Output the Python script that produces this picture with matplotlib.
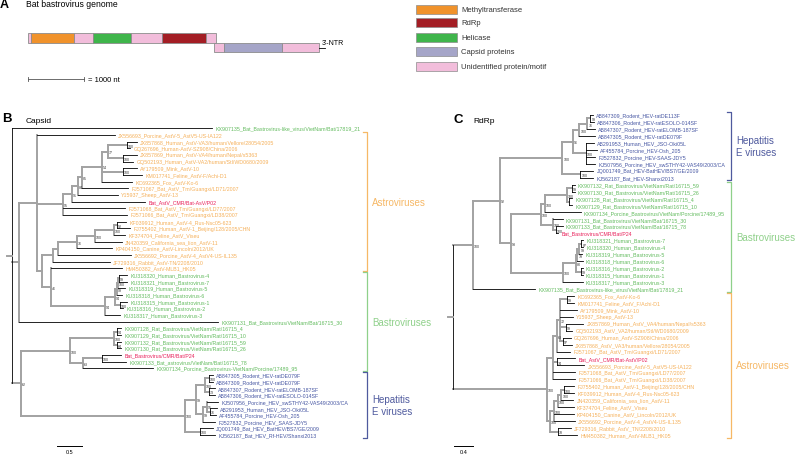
import matplotlib
matplotlib.use("Agg")
import matplotlib.pyplot as plt
from matplotlib.transforms import blended_transform_factory

W, H = 799, 456

# -----------------------------------------------------------
# Data
# -----------------------------------------------------------

# genome map (nt)
orf1_edges = [0, 54, 820, 1160, 1840, 2390, 3180, 3360]
orf1_domains = ["Unidentified protein/motif", "Methyltransferase",
                "Unidentified protein/motif", "Helicase",
                "Unidentified protein/motif", "RdRp",
                "Unidentified protein/motif"]
orf2_edges = [3320, 3500, 4540, 5200]
orf2_domains = ["Unidentified protein/motif", "Capsid proteins",
                "Unidentified protein/motif"]
ntr_end = 5310
scale_nt = 1000

domain_names = ["Methyltransferase", "RdRp", "Helicase",
                "Capsid proteins", "Unidentified protein/motif"]
domain_colors = ["#f0922b", "#a31d24", "#3fb54b", "#a5a5c8", "#f2bddb"]

# capsid tree (branch lengths in substitutions/site)
capsid_newick = """
(KX907135_Bat_Bastrovirus-like_virus/VietNam/Bat/17819_21:4.00,
((JX556693_Porcine_AstV-5_AstV5-US-IA122:1.56,
(((((((JX857868_Human_AstV-VA3/human/Vellore/28054/2005:0.20,GQ267696_Human-AstV-SZ908/China/2006:0.06)100:0.38,
(JX857869_Human_AstV-VA4/human/Nepal/s5363:0.28,GQ502193_Human_AstV-VA2/human/Stl/WD0680/2009:0.20)100:0.30)77:0.12,
(AY179509_Mink_AstV-10:0.28,KM017741_Feline_AstV-F/Achi-D1:0.38)100:0.42,
KC692365_Fox_AstV-Ko-6:0.60)54:0.40,
FJ571067_Bat_AstV_Tm/Guangxi/LD71/2007:0.92)85:0.08,
Y15937_Sheep_AstV-13:0.80)84:0.12,
Bat_AstV_CMR/Bat-AsV/P02:1.46)91:0.18,
FJ571068_Bat_AstV_Tm/Guangxi/LD77/2007:1.24,
FJ571066_Bat_AstV_Tm/Guangxi/LD38/2007:1.28)95:0.52,
(((((((KF039912_Human_AstV-4_Rus-Nsc05-623:0.18,FJ755402_Human_AstV-1_Beijing/128/2005/CHN:0.26)92:0.06,
KF374704_Feline_AstV_Viseu:0.22)100:0.38,
JN420359_California_sea_lion_AstV-11:0.54)100:0.36,
KP404150_Canine_AstV-Lincoln/2012/UK:0.70)76:0.38,
JX556692_Porcine_AstV-4_AstV4-US-IL135:1.46):0.10,
JF729316_Rabbit_AstV-TN/2208/2010:1.14):0.22,
(HM450382_AstV-MLB1_HK05:1.42,
(((((KU318320_Human_Bastrovirus-4:0.16,KU318321_Human_Bastrovirus-7:0.16)99:0.02,
KU318319_Human_Bastrovirus-5:0.14)100:0.02,
KU318318_Human_Bastrovirus-6:0.10)99:0.04,
(KU318315_Human_Bastrovirus-1:0.14,KU318316_Human_Bastrovirus-2:0.06)100:0.10)94:0.20,
KU318317_Human_Bastrovirus-3:0.30)94:1.08)46:0.18):0.10):0.36,
KX907131_Bat_Bastrovirus/VietNam/Bat/16715_30:3.98):0.14,
((((KX907128_Rat_Bastrovirus/VietNam/Rat/16715_4:0.08,KX907129_Rat_Bastrovirus/VietNam/Rat/16715_10:0.08)94:0.06,
(KX907132_Rat_Bastrovirus/VietNam/Rat/16715_59:0.08,KX907130_Rat_Bastrovirus/VietNam/Rat/16715_26:0.08)64:0.06)100:0.88,
((Bat_Bastrovirus/CMR/Bat/P24:0.38,KX907133_Bat_astrovirus/VietNam/Bat/16715_78:0.48)100:0.38,
KX907134_Porcine_Bastrovirus-VietNam/Porcine/17489_95:1.40)63:0.26)100:0.98,
((((AB847305_Rodent_HEV-ratDE079F:0.08,AB847309_Rodent_HEV-ratDE079F:0.08)100:0.08,
(AB847307_Rodent_HEV-ratELOMB-187SF:0.12,AB847306_Rodent_HEV-ratESOLO-014SF:0.12)73:0.08)100:0.18,
((KJ507956_Porcine_HEV_swSTHY42-VAS49/2003/CA:0.22,
(AB291953_Human_HEV_JSO-Oki05L:0.14,AF455784_Porcine_HEV-Osh_205:0.12)76:0.06)95:0.08,
FJ527832_Porcine_HEV_SAAS-JDY5:0.24)99:0.14)99:0.22,
(JQ001749_Bat_HEV_BatHEV/BS7/GE/2009:0.26,KJ562187_Bat_HEV_Rf-HEV/Shanxi2013:0.30)100:0.30)100:3.28)62:0.18);
"""

# RdRp tree
rdrp_newick = """
((((((((AB847309_Rodent_HEV-ratDE113F:0.06,AB847306_Rodent_HEV-ratESOLO-014SF:0.08)99:0.06,
AB847307_Rodent_HEV-ratELOMB-187SF:0.15)76:0.17,
AB847305_Rodent_HEV-ratDE079F:0.32)100:0.13,
(AB291953_Human_HEV_JSO-Oki05L:0.17,AF455784_Porcine_HEV-Osh_205:0.23,
FJ527832_Porcine_HEV-SAAS-JDY5:0.19,KJ507956_Porcine_HEV_swSTHY42-VAS49/2003/CA:0.19)100:0.27)96:0.23,
(JQ001749_Bat_HEV-BatHEV/BS7/GE/2009:0.27,KJ562187_Bat_HEV-Shanxi2013:0.27)100:0.38)100:1.31,
(((((KX907132_Rat_Bastrovirus/VietNam/Rat/16715_59:0.06,KX907130_Rat_Bastrovirus/VietNam/Rat/16715_26:0.06)99:0.11,
(KX907128_Rat_Bastrovirus/VietNam/Rat/16715_4:0.06,KX907129_Rat_Bastrovirus/VietNam/Rat/16715_10:0.06):0.06)100:0.46,
KX907134_Porcine_Bastrovirus/VietNam/Porcine/17489_95:0.76)100:0.08,
(KX907131_Bat_Bastrovirus/VietNam/Bat/16715_30:0.21,
(KX907133_Bat_Bastrovirus/VietNam/Bat/16715_78:0.15,Bat_Bastrovirus/CMR/Bat/P24:0.06)100:0.06)100:0.25)100:0.63,
(((((KU318321_Human_Bastrovirus-7:0.04,KU318320_Human_Bastrovirus-4:0.04)87:0.04,
KU318319_Human_Bastrovirus-5:0.06)99:0.04,
KU318318_Human_Bastrovirus-6:0.11)79:0.04,
(KU318316_Human_Bastrovirus-2:0.04,KU318315_Human_Bastrovirus-1:0.04)99:0.11)80:0.27,
KU318317_Human_Bastrovirus-3:0.42)100:1.09)93:0.23)92:0.57,
KX907135_Bat_Bastrovirus-like_virus/VietNam/Bat/17819_21:1.31)100:0.42,
(((((KC692365_Fox_AstV-Ko-6:0.15,KM017741_Feline_AstV_F/Achi-D1:0.15)99:0.15,
AY179509_Mink_AstV-10:0.36,
Y15937_Sheep_AstV-13:0.27,
(JX857869_Human_AstV_VA4/human/Nepal/s5363:0.36,GQ502193_AstV_VA2/human/Stl/WD0680/2009:0.13)99:0.13,
(GQ267696_Human_AstV-SZ908/China/2006:0.17,JX857868_AstV_VA3/human/Vellore/28054/2005:0.19)97:0.06)72:0.06,
FJ571067_Bat_AstV_Tm/Guangxi/LD71/2007:0.27)63:0.08,
(Bat_AstV_CMR/Bat-AstV/P02:0.38,JX556693_Porcine_AstV-5_AstV5-US-IA122:0.57)74:0.08,
FJ571068_Bat_AstV_Tm/Guangxi/LD77/2007:0.46,
FJ571066_Bat_AstV_Tm/Guangxi/LD38/2007:0.46):0.13,
(((((FJ755402_Human_AstV-1_Beijing/128/2005/CHN:0.21,KF039912_Human_AstV-4_Rus-Nsc05-623:0.21)100:0.06,
JN420359_California_sea_lion_AstV-11:0.25)100:0.08,
KF374704_Feline_AstV_Viseu:0.34)100:0.08,
KP404150_Canine_AstV_Lincoln/2012/UK:0.42,
JX556692_Porcine_AstV-4_AstV4-US-IL135:0.44)100:0.08,
(JF729316_Rabbit_AstV_TN/2208/2010:0.27,HM450382_Human_AstV-MLB1_HK05:0.40)78:0.17)100:0.06)100:1.98);
"""

# clade brackets: label, first leaf, last leaf, colour
capsid_clades = [
    ("Astroviruses", "JX556693", "HM450382", "#f6b866"),
    ("Bastroviruses", "KU318320", "KX907134", "#8fd08a"),
    ("Hepatitis\nE viruses", "AB847305", "KJ562187", "#4f5a9e"),
]
rdrp_clades = [
    ("Hepatitis\nE viruses", "AB847309", "KJ562187", "#4f5a9e"),
    ("Bastroviruses", "KX907132", "KX907135", "#8fd08a"),
    ("Astroviruses", "KC692365", "HM450382", "#f6b866"),
]

capsid_scale = 0.5
rdrp_scale = 0.4

ORANGE = "#f5b05a"
GREEN = "#62bb5e"
BLUE = "#4757a3"
RED = "#e8205a"
GREY = "#a2a2a2"


# -----------------------------------------------------------
# Tree helpers
# -----------------------------------------------------------

def parse_newick(text):

    s = "".join(text.split()).rstrip(";")
    pos = 0

    def node():
        nonlocal pos
        n = {"children": [], "name": "", "length": 0.0}
        if s[pos] == "(":
            pos += 1
            n["children"].append(node())
            while s[pos] == ",":
                pos += 1
                n["children"].append(node())
            pos += 1
        start = pos
        while pos < len(s) and s[pos] not in ",():":
            pos += 1
        n["name"] = s[start:pos]
        if pos < len(s) and s[pos] == ":":
            pos += 1
            start = pos
            while pos < len(s) and s[pos] not in ",()":
                pos += 1
            n["length"] = float(s[start:pos])
        return n

    return node()


def layout(root):

    leaves = []

    def walk(n, x):
        n["x"] = x + n["length"]
        if n["children"]:
            for c in n["children"]:
                walk(c, n["x"])
            n["y"] = (n["children"][0]["y"] + n["children"][-1]["y"]) / 2
        else:
            n["y"] = len(leaves)
            leaves.append(n)

    root["length"] = 0.0
    walk(root, 0.0)
    return leaves


def leaf_color(name):

    if "CMR" in name:
        return RED
    if "HEV" in name:
        return BLUE
    if "Bastrovirus" in name or name.startswith("KX9071"):
        return GREEN
    return ORANGE


def draw_tree(ax, root, stub):

    def walk(n, px):
        kids = n["children"]
        if px is not None:
            if kids:
                ax.plot([px, n["x"]], [n["y"], n["y"]], color=GREY,
                        lw=1.4, solid_capstyle="projecting", zorder=1)
            else:
                ax.plot([px, n["x"]], [n["y"], n["y"]], color="black",
                        lw=0.6, zorder=2)
        if kids:
            simple = all(not c["children"] for c in kids)
            if px is None or simple:
                ax.plot([n["x"], n["x"]], [kids[0]["y"], kids[-1]["y"]],
                        color="black", lw=0.6, zorder=2)
            else:
                ax.plot([n["x"], n["x"]], [kids[0]["y"], kids[-1]["y"]],
                        color=GREY, lw=1.4, solid_capstyle="projecting",
                        zorder=1)
            if n["name"]:
                ax.annotate(n["name"], (n["x"], n["y"]), xytext=(0.8, -0.6),
                            textcoords="offset points", fontsize=2.6,
                            ha="left", va="center", color="#333333",
                            zorder=3)
            for c in kids:
                walk(c, n["x"])
        else:
            ax.annotate(n["name"], (n["x"], n["y"]), xytext=(2.4, 0),
                        textcoords="offset points", fontsize=3.8,
                        ha="left", va="center", color=leaf_color(n["name"]))

    walk(root, None)
    ax.plot([root["x"] - stub, root["x"]], [root["y"], root["y"]],
            color=GREY, lw=1.4)


def tree_axes(fig, root_px, px_per_unit, top_px, step_px):

    ax = fig.add_axes([0, 0, 1, 1], facecolor="none")
    ax.set_xlim(-root_px / px_per_unit, (W - root_px) / px_per_unit)
    ax.set_ylim((H - top_px) / step_px, -top_px / step_px)
    ax.axis("off")
    return ax


def draw_brackets(ov, ax, leaves, clades, bx):

    trans = blended_transform_factory(ov.transData, ax.transData)
    index = {lf["name"].split("_")[0]: lf["y"] for lf in leaves}
    for label, first, last, color in clades:
        y0 = index[first] - 0.4
        y1 = index[last] + 0.4
        ax.plot([bx - 4, bx, bx, bx - 4], [y0, y0, y1, y1], color=color,
                lw=0.9, transform=trans)
        ax.text(bx + 5, (y0 + y1) / 2, label, transform=trans, color=color,
                fontsize=7, ha="left", va="center", linespacing=1.25)


def draw_scale(ov, ax, x0, length, y_px):

    trans = blended_transform_factory(ax.transData, ov.transData)
    ax.plot([x0, x0 + length], [y_px, y_px], color="black", lw=0.7,
            transform=trans)
    ax.text(x0 + length / 2, y_px + 6, f"{length:g}", transform=trans,
            fontsize=4, ha="center", va="center")


# -----------------------------------------------------------
# Figure
# -----------------------------------------------------------

def main():

    plt.rcParams["font.family"] = ["Liberation Sans", "DejaVu Sans"]

    fig = plt.figure(figsize=(W / 100, H / 100), dpi=100)

    ov = fig.add_axes([0, 0, 1, 1], facecolor="none")
    ov.set_xlim(0, W)
    ov.set_ylim(H, 0)
    ov.axis("off")

    # --- panel A: genome ---
    gen = fig.add_axes([0, 0, 1, 1], facecolor="none")
    nt_px = 0.056
    gen.set_xlim(-28 / nt_px, (W - 28) / nt_px)
    gen.set_ylim(H, 0)
    gen.axis("off")

    cmap = dict(zip(domain_names, domain_colors))

    for edges, doms, yc in [(orf1_edges, orf1_domains, 38.8),
                            (orf2_edges, orf2_domains, 48.3)]:
        gen.barh(
            [yc] * len(doms),
            [b - a for a, b in zip(edges[:-1], edges[1:])],
            left=edges[:-1],
            height=9.4,
            color=[cmap[d] for d in doms],
            edgecolor="#8c8c8c",
            linewidth=0.6
        )

    gen.plot([orf2_edges[-1], ntr_end], [48.8, 48.8], color="black", lw=0.6)
    gen.text(orf2_edges[-1] + 40, 43.5, "3'-NTR", fontsize=5,
             ha="left", va="center")

    gen.plot([0, scale_nt], [80, 80], color="#555555", lw=0.6)
    gen.plot([0, 0], [78, 82], color="#555555", lw=0.6)
    gen.plot([scale_nt, scale_nt], [78, 82], color="#555555", lw=0.6)
    gen.text(scale_nt + 80, 80, f"= {scale_nt} nt", fontsize=5.5,
             ha="left", va="center")

    ov.text(0, 5, "A", fontsize=9, fontweight="bold", ha="left",
            va="center")
    ov.text(26, 4.5, "Bat bastrovirus genome", fontsize=6.2, ha="left",
            va="center")

    legend_y = [10.5, 23.5, 38, 52.5, 67.5]
    ov.barh(legend_y, 41, left=416, height=9, color=domain_colors,
            edgecolor="#8c8c8c", linewidth=0.5)
    for y, name in zip(legend_y, domain_names):
        ov.text(461, y, name, fontsize=5.5, ha="left", va="center",
                color="#333333")

    # --- panel B: capsid tree ---
    cap = parse_newick(capsid_newick)
    cap_leaves = layout(cap)
    axb = tree_axes(fig, 12, 50.0, 129.3, (436 - 129.3) / 46)
    draw_tree(axb, cap, 0.1)
    draw_brackets(ov, axb, cap_leaves, capsid_clades, 367)
    draw_scale(ov, axb, 0.9, capsid_scale, 447)

    ov.text(2, 119, "B", fontsize=9.5, fontweight="bold", ha="left",
            va="center")
    ov.text(26, 122, "Capsid", fontsize=6, ha="left", va="center")

    # --- panel C: RdRp tree ---
    rd = parse_newick(rdrp_newick)
    rd_leaves = layout(rd)
    axc = tree_axes(fig, 453, 47.5, 116, (436 - 116) / 46)
    draw_tree(axc, rd, 0.1)
    draw_brackets(ov, axc, rd_leaves, rdrp_clades, 731)
    draw_scale(ov, axc, 0.02, rdrp_scale, 447)

    ov.text(453, 120, "C", fontsize=9.5, fontweight="bold", ha="left",
            va="center")
    ov.text(473, 122, "RdRp", fontsize=6, ha="left", va="center")

    fig.savefig("out.png", dpi=100)


if __name__ == "__main__":
    main()
